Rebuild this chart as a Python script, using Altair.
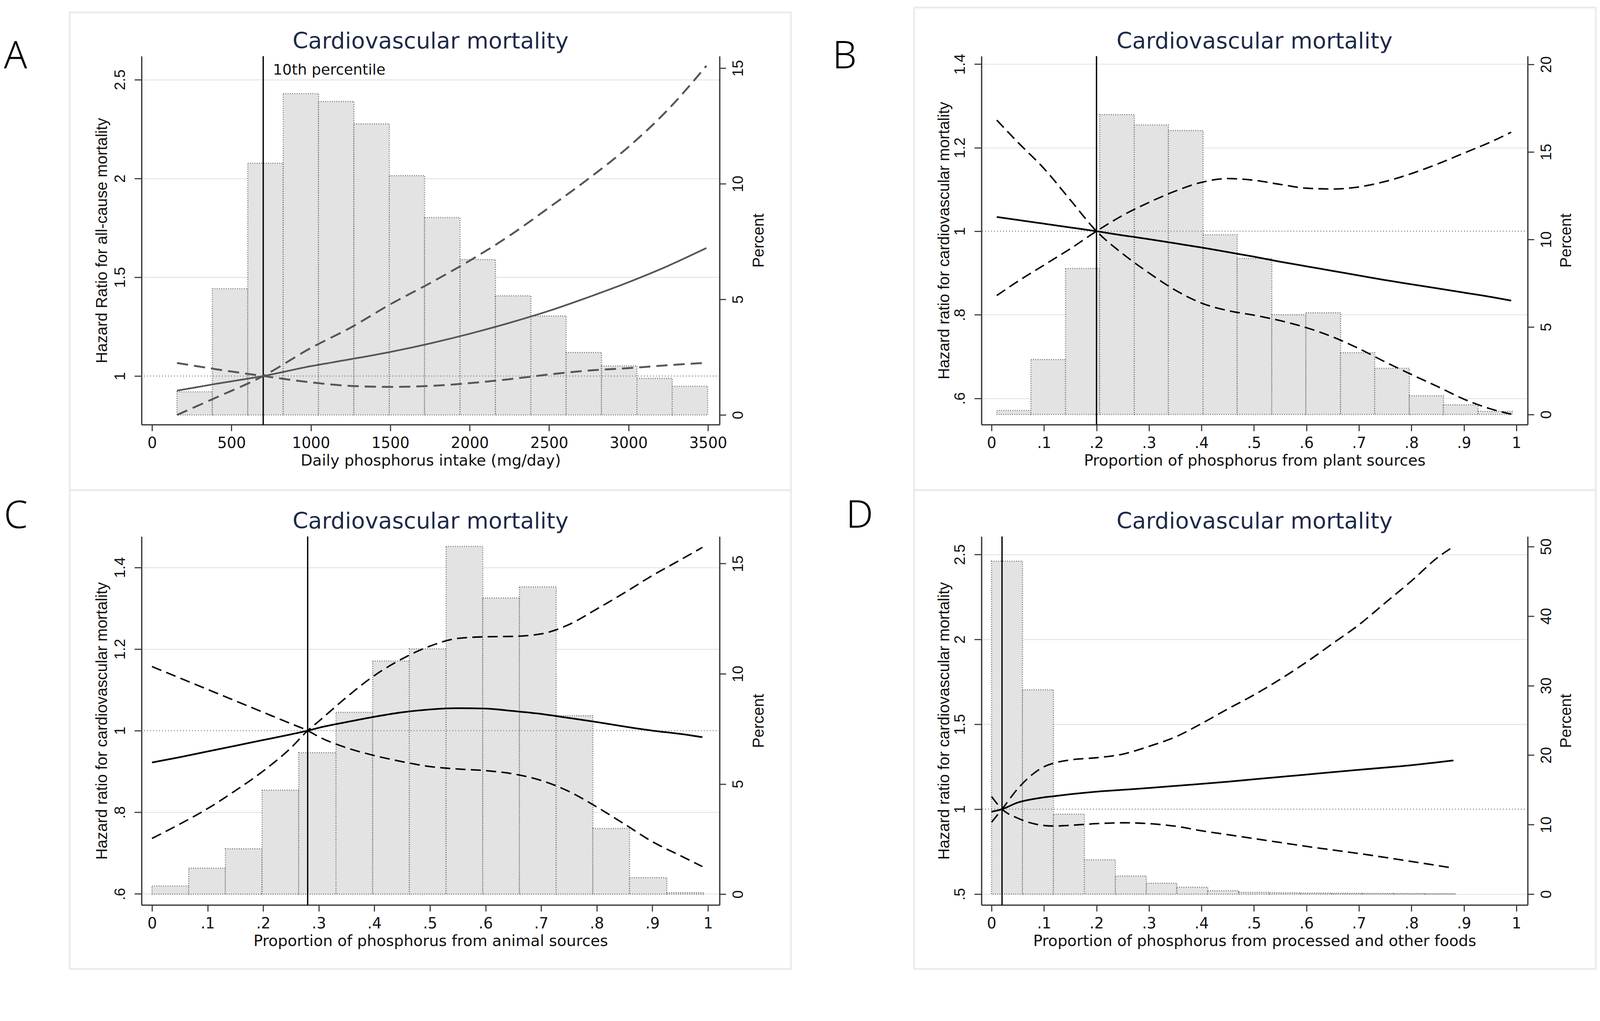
import altair as alt
import pandas as pd

# ---------------- data ----------------
# Panel A: daily phosphorus intake (mg/day)
A_X = [157, 400, 700, 1000, 1250, 1500, 1750, 2000, 2250, 2500, 2750, 3000, 3250, 3490]
A_EST = [0.926, 0.96, 1.0, 1.05, 1.085, 1.122, 1.165, 1.214, 1.269, 1.33, 1.40, 1.475, 1.558, 1.648]
A_HI = [0.803, 0.89, 1.0, 1.142, 1.245, 1.363, 1.47, 1.584, 1.71, 1.853, 2.0, 2.16, 2.35, 2.57]
A_LO = [1.066, 1.035, 1.0, 0.968, 0.95, 0.945, 0.95, 0.964, 0.984, 1.008, 1.028, 1.04, 1.055, 1.067]
A_EDGES = [157, 380, 603, 826, 1048, 1271, 1494, 1716, 1939, 2162, 2385, 2607, 2830, 3053, 3275, 3498]
A_PCT = [1.0, 5.46, 10.89, 13.9, 13.56, 12.59, 10.35, 8.54, 6.72, 5.15, 4.28, 2.70, 2.12, 1.58, 1.24]
A_REF = 700

# Panel B: proportion from plant sources
B_X = [0.01, 0.05, 0.1, 0.15, 0.2, 0.25, 0.3, 0.35, 0.4, 0.45, 0.5, 0.55, 0.6, 0.65, 0.7, 0.75, 0.8, 0.85, 0.9, 0.95, 0.99]
B_EST = [1.034, 1.027, 1.018, 1.009, 1.0, 0.99, 0.981, 0.971, 0.961, 0.95, 0.939, 0.927, 0.916, 0.905, 0.894, 0.883, 0.873, 0.863, 0.853, 0.843, 0.834]
B_HI = [0.846, 0.88, 0.919, 0.958, 1.0, 1.038, 1.069, 1.096, 1.117, 1.126, 1.122, 1.112, 1.103, 1.101, 1.106, 1.119, 1.138, 1.161, 1.187, 1.213, 1.237]
B_LO = [1.266, 1.213, 1.15, 1.075, 1.0, 0.946, 0.9, 0.859, 0.828, 0.81, 0.799, 0.786, 0.769, 0.747, 0.719, 0.687, 0.657, 0.628, 0.598, 0.575, 0.562]
B_EDGES = [0.010, 0.075, 0.141, 0.206, 0.272, 0.337, 0.403, 0.468, 0.534, 0.599, 0.665, 0.730, 0.796, 0.861, 0.927, 0.992]
B_PCT = [0.23, 3.14, 8.34, 17.13, 16.54, 16.22, 10.27, 8.91, 5.70, 5.81, 3.53, 2.64, 1.07, 0.55, 0.18]
B_REF = 0.2

# Panel C: proportion from animal sources
C_X = [0.0, 0.05, 0.1, 0.15, 0.2, 0.25, 0.28, 0.3, 0.35, 0.4, 0.45, 0.5, 0.55, 0.6, 0.65, 0.7, 0.75, 0.8, 0.85, 0.9, 0.95, 0.99]
C_EST = [0.922, 0.935, 0.949, 0.963, 0.977, 0.991, 1.0, 1.007, 1.021, 1.034, 1.045, 1.052, 1.055, 1.054, 1.048, 1.041, 1.031, 1.021, 1.01, 1.0, 0.992, 0.984]
C_HI = [0.736, 0.771, 0.809, 0.853, 0.901, 0.958, 1.0, 1.023, 1.082, 1.135, 1.176, 1.207, 1.226, 1.23, 1.231, 1.237, 1.26, 1.298, 1.338, 1.38, 1.418, 1.449]
C_LO = [1.157, 1.129, 1.101, 1.073, 1.045, 1.017, 1.0, 0.985, 0.958, 0.939, 0.924, 0.912, 0.906, 0.902, 0.894, 0.878, 0.851, 0.813, 0.771, 0.728, 0.694, 0.667]
C_EDGES = [0.0, 0.066, 0.132, 0.198, 0.264, 0.331, 0.397, 0.463, 0.529, 0.595, 0.661, 0.727, 0.793, 0.859, 0.926, 0.992]
C_PCT = [0.37, 1.18, 2.06, 4.72, 6.42, 8.25, 10.58, 11.13, 15.78, 13.44, 13.94, 8.10, 2.98, 0.75, 0.07]
C_REF = 0.28

# Panel D: proportion from processed and other foods
D_X = [0.0, 0.02, 0.05, 0.08, 0.1, 0.12, 0.15, 0.2, 0.25, 0.3, 0.35, 0.4, 0.45, 0.5, 0.55, 0.6, 0.65, 0.7, 0.75, 0.8, 0.85, 0.88]
D_EST = [0.985, 1.0, 1.039, 1.06, 1.07, 1.077, 1.088, 1.103, 1.114, 1.125, 1.137, 1.149, 1.162, 1.176, 1.19, 1.204, 1.218, 1.232, 1.245, 1.259, 1.276, 1.287]
D_HI = [0.923, 1.0, 1.121, 1.21, 1.25, 1.272, 1.29, 1.303, 1.324, 1.37, 1.425, 1.504, 1.59, 1.673, 1.765, 1.866, 1.976, 2.086, 2.215, 2.344, 2.482, 2.546]
D_LO = [1.075, 1.0, 0.947, 0.915, 0.904, 0.901, 0.905, 0.915, 0.92, 0.915, 0.9, 0.873, 0.85, 0.827, 0.804, 0.781, 0.76, 0.739, 0.716, 0.692, 0.668, 0.653]
D_EDGES = [0.0, 0.059, 0.118, 0.177, 0.236, 0.295, 0.353, 0.412, 0.471, 0.530, 0.589, 0.648, 0.707, 0.766, 0.825, 0.884]
D_PCT = [47.9, 29.4, 11.5, 4.94, 2.61, 1.57, 0.99, 0.49, 0.27, 0.2, 0.15, 0.12, 0.1, 0.08, 0.06]
D_REF = 0.02

PROP_TICKS = [0, 0.1, 0.2, 0.3, 0.4, 0.5, 0.6, 0.7, 0.8, 0.9, 1]
TITLE = "Cardiovascular mortality"

LABEL_EXPR = ("indexof(format(datum.value, '~g'), '0.') === 0 ? "
              "substring(format(datum.value, '~g'), 1) : format(datum.value, '~g')")

HFONT = "DejaVu Sans"
VFONT = "Liberation Sans"
INK = "#111111"
AXC = "#3a3a3a"


def line_df(xs, est, hi, lo):
    rows = []
    for k, vals in (("est", est), ("hi", hi), ("lo", lo)):
        for x, v in zip(xs, vals):
            rows.append({"x": x, "hr": v, "kind": k})
    return pd.DataFrame(rows)


def panel(p):
    W, H = p["W"], p["H"]
    one = pd.DataFrame({"a": [0]})
    xs = alt.Scale(domain=p["xdom"], nice=False, zero=False)
    hs = alt.Scale(domain=p["hdom"], nice=False, zero=False)
    ps = alt.Scale(domain=p["pdom"], nice=False, zero=False)

    xaxis = alt.Axis(
        values=p["xticks"], labelExpr=LABEL_EXPR, title=p["xtitle"], orient="bottom",
        grid=False, tickSize=17, tickWidth=3, tickColor=AXC, domainColor=AXC, domainWidth=3.5,
        labelFont=HFONT, labelFontSize=40, labelColor=INK, labelBaseline="alphabetic",
        labelPadding=45, labelAngle=0, labelFlush=False, labelOverlap=False,
        titleFont=HFONT, titleFontSize=41, titleFontWeight="normal", titleColor=INK,
        titleX=W / 2, titleY=109, titleAlign="center", titleBaseline="alphabetic", titleAngle=0,
    )
    laxis = alt.Axis(
        values=p["hticks"], labelExpr=LABEL_EXPR, title=p["ytitle"], orient="left",
        grid=True, gridColor="#e4e4e4", gridWidth=2.5,
        gridOpacity={"condition": {"test": "datum.value == 1", "value": 0}, "value": 1},
        tickSize=19, tickWidth=3, tickColor=AXC, domainColor=AXC, domainWidth=3.5,
        labelFont=VFONT, labelFontSize=40, labelColor=INK, labelAngle=270,
        labelAlign="center", labelBaseline="alphabetic", labelPadding=26,
        labelFlush=False, labelOverlap=False,
        titleFont=VFONT, titleFontSize=42, titleFontWeight="normal", titleColor=INK,
        titleAngle=270, titleX=p["ytx"], titleY=H / 2, titleAlign="center",
        titleBaseline="alphabetic",
    )
    raxis = alt.Axis(
        values=p["pticks"], labelExpr=LABEL_EXPR, title="Percent", orient="right",
        grid=False, tickSize=17, tickWidth=3, tickColor=AXC, domainColor=AXC, domainWidth=3.5,
        labelFont=VFONT, labelFontSize=40, labelColor=INK, labelAngle=270,
        labelAlign="center", labelBaseline="top", labelPadding=13,
        labelFlush=False, labelOverlap=False,
        titleFont=VFONT, titleFontSize=42, titleFontWeight="normal", titleColor=INK,
        titleAngle=270, titleX=p["ptx"], titleY=H / 2, titleAlign="center", titleBaseline="top",
    )

    cx0, cy0, cx1, cy1 = p["card"]
    card = alt.Chart(one).mark_rect(fillOpacity=0, stroke="#eaecec", strokeWidth=5).encode(
        x=alt.value(cx0), x2=alt.value(cx1), y=alt.value(cy0), y2=alt.value(cy1))
    letter = alt.Chart(one).mark_text(
        text=p["letter"], font="Noto Sans", fontSize=102, fontWeight=300, color="#000000",
        align="left", baseline="alphabetic").encode(
        x=alt.value(p["lpos"][0]), y=alt.value(p["lpos"][1]))
    title = alt.Chart(one).mark_text(
        text=TITLE, font=HFONT, fontSize=60, color="#1e2a48",
        align="center", baseline="alphabetic").encode(
        x=alt.value(W / 2), y=alt.value(-21))

    edges = p["edges"]
    bars_df = pd.DataFrame({"x0": edges[:-1], "x1": edges[1:], "pct": p["pct"]})
    bars = alt.Chart(bars_df).mark_rect(
        fill="#e3e3e3", stroke="#6a6a6a", strokeDash=[2, 4], strokeWidth=3).encode(
        x=alt.X("x0:Q", scale=xs, axis=xaxis),
        x2="x1:Q",
        y=alt.Y("pct:Q", scale=ps, axis=raxis),
        y2=alt.datum(0),
    )

    ldf = line_df(p["lx"], p["est"], p["hi"], p["lo"])
    ref_df = pd.DataFrame({"hr": [1.0]})
    v_df = pd.DataFrame({"x": [p["ref"]]})
    col = p["lcolor"]

    hline = alt.Chart(ref_df).mark_rule(color="#7a7a7a", strokeDash=[2, 6], strokeWidth=3).encode(
        y=alt.Y("hr:Q", scale=hs, axis=laxis))
    vline = alt.Chart(v_df).mark_rule(color="#000000", strokeWidth=3.5).encode(
        x=alt.X("x:Q", scale=xs, axis=xaxis))
    est = alt.Chart(ldf).transform_filter("datum.kind == 'est'").mark_line(
        color=col, strokeWidth=p["ew"], interpolate="monotone").encode(
        x=alt.X("x:Q", scale=xs, axis=xaxis), y=alt.Y("hr:Q", scale=hs, axis=laxis))
    ci = alt.Chart(ldf).transform_filter("datum.kind != 'est'").mark_line(
        color=col, strokeWidth=p["cw"], strokeDash=p["dash"], interpolate="monotone").encode(
        x=alt.X("x:Q", scale=xs, axis=xaxis), y=alt.Y("hr:Q", scale=hs, axis=laxis),
        detail="kind:N")
    layers_hr = [hline, vline, est, ci]
    if p.get("note"):
        note = alt.Chart(v_df).mark_text(
            text=p["note"], font=HFONT, fontSize=39.5, color=INK, align="left",
            baseline="alphabetic", dx=26).encode(
            x=alt.X("x:Q", scale=xs, axis=xaxis), y=alt.value(49))
        layers_hr.append(note)
    hr_layer = alt.layer(*layers_hr)

    deco = [card, letter, title]
    if p.get("anchor"):
        ax, ay = p["anchor"]
        anchor = alt.Chart(one).mark_rect(fill="#ffffff", opacity=0).encode(
            x=alt.value(ax), x2=alt.value(ax + 1), y=alt.value(ay), y2=alt.value(ay + 1))
        deco.append(anchor)

    return alt.layer(*deco, bars, hr_layer).resolve_scale(y="independent").properties(
        width=W, height=H)


PANELS = [
    dict(letter="A", W=1545, H=985, xdom=[-66, 3573], hdom=[0.754, 2.619], pdom=[-0.42, 15.52],
         xticks=[0, 500, 1000, 1500, 2000, 2500, 3000, 3500], hticks=[1, 1.5, 2, 2.5],
         pticks=[0, 5, 10, 15], xtitle="Daily phosphorus intake (mg/day)",
         ytitle="Hazard Ratio for all-cause mortality", ytx=-93, ptx=84,
         lx=A_X, est=A_EST, hi=A_HI, lo=A_LO, edges=A_EDGES, pct=A_PCT, ref=A_REF,
         lcolor="#555555", ew=4.5, cw=5, dash=[30, 16], note="10th percentile",
         card=(-192, -117, 1736, 1160), lpos=(-368, 33), anchor=(-370, -300)),
    dict(letter="B", W=1460, H=985, xdom=[-0.0192, 1.0214], hdom=[0.537, 1.419], pdom=[-0.58, 20.47],
         xticks=PROP_TICKS, hticks=[0.6, 0.8, 1, 1.2, 1.4], pticks=[0, 5, 10, 15, 20],
         xtitle="Proportion of phosphorus from plant sources",
         ytitle="Hazard ratio for cardiovascular mortality", ytx=-87, ptx=83,
         lx=B_X, est=B_EST, hi=B_HI, lo=B_LO, edges=B_EDGES, pct=B_PCT, ref=B_REF,
         lcolor="#000000", ew=4.5, cw=4, dash=[27, 14],
         card=(-180, -130, 1642, 1160), lpos=(-398, 33)),
    dict(letter="C", W=1545, H=985, xdom=[-0.0188, 1.0209], hdom=[0.5729, 1.4757], pdom=[-0.49, 16.23],
         xticks=PROP_TICKS, hticks=[0.6, 0.8, 1, 1.2, 1.4], pticks=[0, 5, 10, 15],
         xtitle="Proportion of phosphorus from animal sources",
         ytitle="Hazard ratio for cardiovascular mortality", ytx=-93, ptx=84,
         lx=C_X, est=C_EST, hi=C_HI, lo=C_LO, edges=C_EDGES, pct=C_PCT, ref=C_REF,
         lcolor="#000000", ew=4.5, cw=4, dash=[27, 14],
         card=(-192, -124, 1736, 1156), lpos=(-368, -23)),
    dict(letter="D", W=1460, H=985, xdom=[-0.0192, 1.0214], hdom=[0.4361, 2.6057], pdom=[-1.56, 51.45],
         xticks=PROP_TICKS, hticks=[0.5, 1, 1.5, 2, 2.5], pticks=[0, 10, 20, 30, 40, 50],
         xtitle="Proportion of phosphorus from processed and other foods",
         ytitle="Hazard ratio for cardiovascular mortality", ytx=-87, ptx=83,
         lx=D_X, est=D_EST, hi=D_HI, lo=D_LO, edges=D_EDGES, pct=D_PCT, ref=D_REF,
         lcolor="#000000", ew=4.5, cw=4, dash=[27, 14],
         card=(-180, -124, 1642, 1156), lpos=(-362, -24)),
]

charts = [panel(p) for p in PANELS]
chart = alt.concat(*charts, columns=2, spacing={"row": 299, "column": 700}, bounds="flush").properties(
    padding={"top": -214, "left": 0, "right": 0, "bottom": 0},
    background="#ffffff").configure_view(strokeWidth=0)

chart.save("out.html", embed_options={"renderer": "svg", "actions": False})
